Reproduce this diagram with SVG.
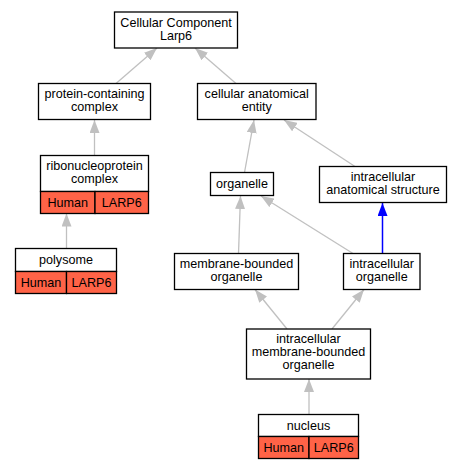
<svg xmlns="http://www.w3.org/2000/svg" width="463" height="469" viewBox="0 0 463 469">
<style>
text{font-family:"Liberation Sans",Arial,sans-serif;font-size:12.6px;fill:#000;text-anchor:middle}
.box{fill:#fff;stroke:#000;stroke-width:1.3}
.hl{fill:#ff6347;stroke:#000;stroke-width:1.3}
.e{stroke:#c0c0c0;stroke-width:1.3;fill:none;marker-end:url(#ag)}
.b{stroke:#0000ff;stroke-width:1.5;fill:none;marker-end:url(#ab)}
</style>
<defs>
<marker id="ag" markerUnits="userSpaceOnUse" markerWidth="14" markerHeight="10" refX="13" refY="5" orient="auto"><path d="M0,0 L13,5 L0,10 z" fill="#c0c0c0"/></marker>
<marker id="ab" markerUnits="userSpaceOnUse" markerWidth="14" markerHeight="10" refX="13" refY="5" orient="auto"><path d="M0,0 L13,5 L0,10 z" fill="#0000ff"/></marker>
</defs>
<rect width="463" height="469" fill="#fff"/>
<g id="edges">
<line class="e" x1="116" y1="83.5" x2="157" y2="48"/>
<line class="e" x1="236" y1="83.5" x2="195" y2="48"/>
<line class="e" x1="94.5" y1="155.5" x2="94.5" y2="120"/>
<line class="e" x1="66.5" y1="248.5" x2="66.5" y2="213.5"/>
<line class="e" x1="244.5" y1="172.5" x2="254" y2="120"/>
<line class="e" x1="355" y1="166.5" x2="284" y2="120"/>
<line class="e" x1="238.5" y1="253.5" x2="240.5" y2="196"/>
<line class="e" x1="353" y1="253.5" x2="261" y2="196"/>
<line class="b" x1="382.5" y1="253.5" x2="382.5" y2="203"/>
<line class="e" x1="287" y1="329" x2="255" y2="289.5"/>
<line class="e" x1="332" y1="329" x2="364" y2="289.5"/>
<line class="e" x1="309" y1="414.5" x2="309" y2="379"/>
</g>
<g id="cc">
<rect class="box" x="114.5" y="12" width="123" height="36"/>
<text x="176" y="26.5">Cellular Component</text>
<text x="176" y="39.5">Larp6</text>
</g>
<g id="pcc">
<rect class="box" x="38.5" y="83.5" width="112" height="36"/>
<text x="94.5" y="98">protein-containing</text>
<text x="94.5" y="111">complex</text>
</g>
<g id="cae">
<rect class="box" x="197.5" y="83.5" width="118.5" height="36"/>
<text x="256.75" y="98">cellular anatomical</text>
<text x="256.75" y="111">entity</text>
</g>
<g id="rnp">
<rect class="box" x="40.5" y="155.5" width="108" height="36"/>
<rect class="hl" x="40.5" y="191.5" width="54.5" height="22"/>
<rect class="hl" x="95" y="191.5" width="53.5" height="22"/>
<text x="94.5" y="170">ribonucleoprotein</text>
<text x="94.5" y="183">complex</text>
<text x="67.75" y="206.5">Human</text>
<text x="121.75" y="206.5">LARP6</text>
</g>
<g id="polysome">
<rect class="box" x="15.5" y="248.5" width="101" height="23"/>
<rect class="hl" x="15.5" y="271.5" width="51" height="22"/>
<rect class="hl" x="66.5" y="271.5" width="50" height="22"/>
<text x="66" y="263.5">polysome</text>
<text x="41" y="287">Human</text>
<text x="91.5" y="287">LARP6</text>
</g>
<g id="organelle">
<rect class="box" x="210.5" y="172.5" width="63" height="23"/>
<text x="242" y="188">organelle</text>
</g>
<g id="ias">
<rect class="box" x="319.5" y="166.5" width="127" height="36"/>
<text x="383" y="181">intracellular</text>
<text x="383" y="194">anatomical structure</text>
</g>
<g id="mbo">
<rect class="box" x="174.5" y="253.5" width="124" height="36"/>
<text x="236.5" y="268">membrane-bounded</text>
<text x="236.5" y="281">organelle</text>
</g>
<g id="io">
<rect class="box" x="343.5" y="253.5" width="76.5" height="36"/>
<text x="381.75" y="268">intracellular</text>
<text x="381.75" y="281">organelle</text>
</g>
<g id="imbo">
<rect class="box" x="246.5" y="329" width="124" height="50"/>
<text x="308.5" y="343">intracellular</text>
<text x="308.5" y="356">membrane-bounded</text>
<text x="308.5" y="369">organelle</text>
</g>
<g id="nucleus">
<rect class="box" x="258.5" y="414.5" width="100" height="22"/>
<rect class="hl" x="258.5" y="436.5" width="50.5" height="22"/>
<rect class="hl" x="309" y="436.5" width="49.5" height="22"/>
<text x="308.5" y="429.5">nucleus</text>
<text x="283.75" y="451.5">Human</text>
<text x="333.75" y="451.5">LARP6</text>
</g>
</svg>
